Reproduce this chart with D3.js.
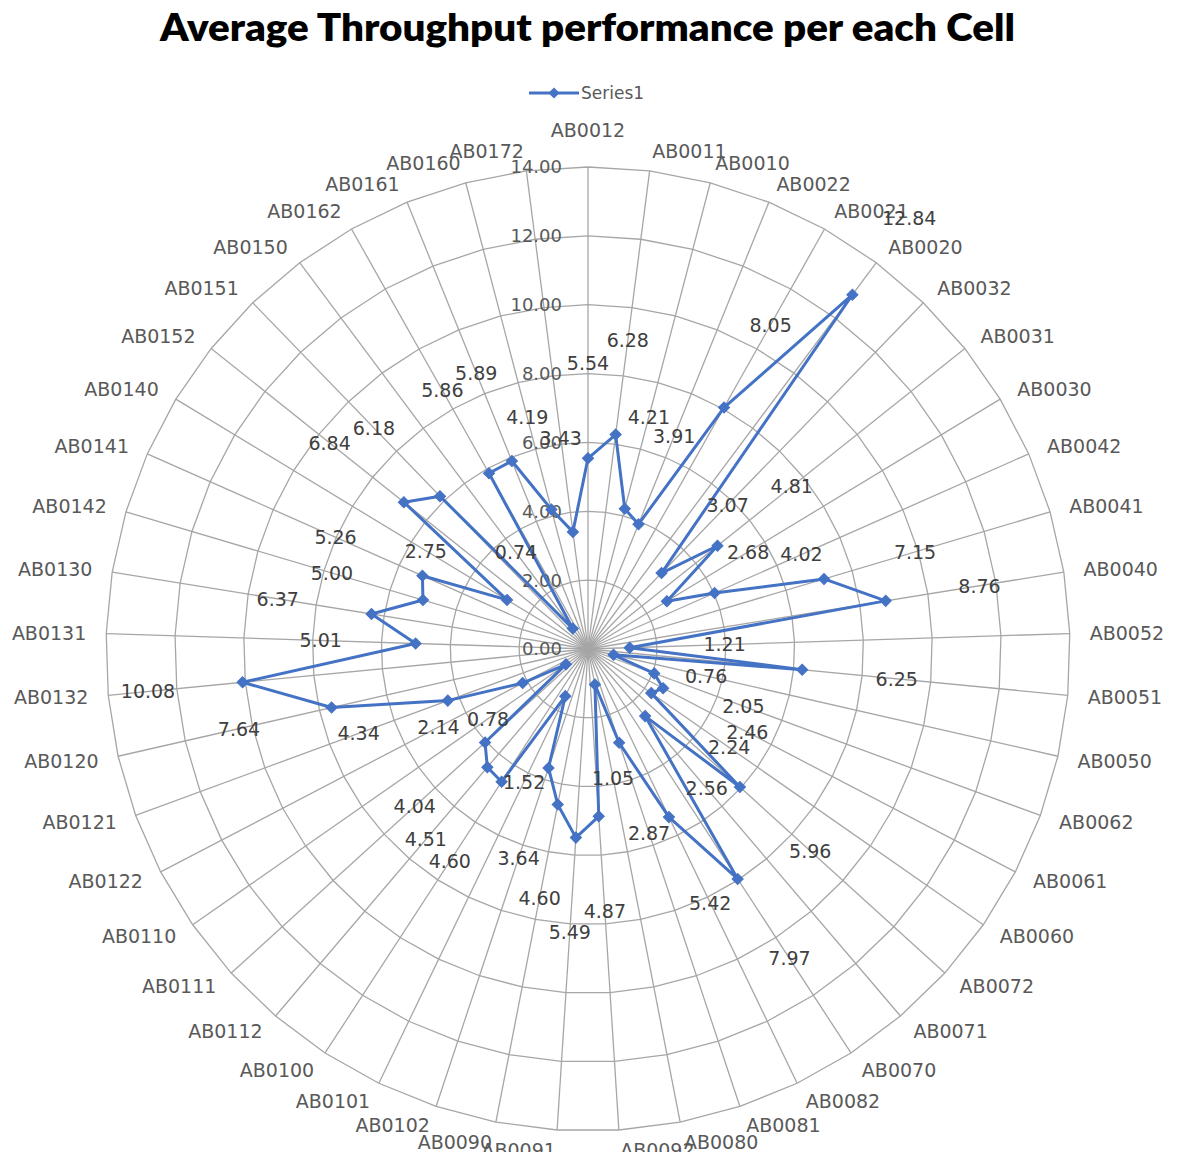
<!DOCTYPE html>
<html>
<head>
<meta charset="utf-8">
<script src="https://cdn.jsdelivr.net/npm/d3@7/dist/d3.min.js"></script>
<style>
  html, body { margin: 0; padding: 0; background: #fff; }
  svg { display: block; }
</style>
</head>
<body>
<svg id="chart" width="1177" height="1152"></svg>
<script>
// Cells, clockwise from the top spoke
const cells = [
  "AB0012", "AB0011", "AB0010", "AB0022", "AB0021", "AB0020", "AB0032", "AB0031",
  "AB0030", "AB0042", "AB0041", "AB0040", "AB0052", "AB0051", "AB0050", "AB0062",
  "AB0061", "AB0060", "AB0072", "AB0071", "AB0070", "AB0082", "AB0081", "AB0080",
  "AB0092", "AB0091", "AB0090", "AB0102", "AB0101", "AB0100", "AB0112", "AB0111",
  "AB0110", "AB0122", "AB0121", "AB0120", "AB0132", "AB0131", "AB0130", "AB0142",
  "AB0141", "AB0140", "AB0152", "AB0151", "AB0150", "AB0162", "AB0161", "AB0160",
  "AB0172"
];

// Average throughput per cell (Series1)
const series1 = [
  5.54, 6.28, 4.21, 3.91, 8.05, 12.84, 3.07, 4.81,
  2.68, 4.02, 7.15, 8.76, 1.21, 6.25, 0.76, 2.05,
  2.46, 2.24, 5.96, 2.56, 7.97, 5.42, 2.87, 1.05,
  4.87, 5.49, 4.60, 3.64, 1.52, 4.60, 4.51, 4.04,
  0.78, 2.14, 4.34, 7.64, 10.08, 5.01, 6.37, 5.00,
  5.26, 2.75, 6.84, 6.18, 0.74, 5.86, 5.89, 4.19,
  3.43
];

// Radial axis ticks
const radialTicks = [0, 2, 4, 6, 8, 10, 12, 14];

const seriesName = "Series1";
const chartTitle = "Average Throughput performance per each Cell";

const svg = d3.select("#chart");
const W = 1177, H = 1152;
const cx = 588, cy = 649, R = 482;
const blue = "#4472C4";
const gridColor = "#a6a6a6";

svg.append("rect").attr("width", W).attr("height", H).attr("fill", "#fff");

const n = cells.length;
const angle = d3.scaleLinear().domain([0, n]).range([0, 2 * Math.PI]);
const r = d3.scaleLinear().domain([0, d3.max(radialTicks)]).range([0, R]);

const g = svg.append("g").attr("transform", `translate(${cx},${cy})`);

// polar -> cartesian (angle measured clockwise from 12 o'clock)
const px = (a, rad) => rad * Math.sin(a);
const py = (a, rad) => -rad * Math.cos(a);

// ring polygons
const ringLine = d3.lineRadial()
  .angle((d, i) => angle(i))
  .radius(d => d)
  .curve(d3.curveLinearClosed);

g.append("g").selectAll("path")
  .data(radialTicks.filter(t => t > 0))
  .join("path")
  .attr("d", t => ringLine(cells.map(() => r(t))))
  .attr("fill", "none")
  .attr("stroke", gridColor)
  .attr("stroke-width", 1.3);

// spokes
g.append("g").selectAll("line")
  .data(cells)
  .join("line")
  .attr("x1", 0).attr("y1", 0)
  .attr("x2", (d, i) => px(angle(i), r(14)))
  .attr("y2", (d, i) => py(angle(i), r(14)))
  .attr("stroke", gridColor)
  .attr("stroke-width", 1.3);

// radial axis tick labels along the top spoke
const fmt = d3.format(".2f");
g.append("g").selectAll("text")
  .data(radialTicks)
  .join("text")
  .attr("x", -26)
  .attr("y", t => -r(t))
  .attr("dy", "0.36em")
  .attr("text-anchor", "end")
  .attr("font-family", "DejaVu Sans")
  .attr("font-size", 18)
  .attr("fill", "#595959")
  .text(t => fmt(t));

// category labels around the outside
g.append("g").selectAll("text")
  .data(cells)
  .join("text")
  .each(function (d, i) {
    const a = angle(i);
    const s = Math.sin(a), c = Math.cos(a);
    const centred = Math.abs(s) < 0.01;
    const rr = R + 20;
    let x = px(a, rr), y = py(a, rr);
    if (centred) y = c > 0 ? -(R + 37) : (R + 37);
    d3.select(this)
      .attr("x", x)
      .attr("y", y)
      .attr("dy", "0.36em")
      .attr("text-anchor", centred ? "middle" : (s > 0 ? "start" : "end"));
  })
  .attr("font-family", "DejaVu Sans")
  .attr("font-size", 19)
  .attr("fill", "#595959")
  .text(d => d);

// series line
const seriesLine = d3.lineRadial()
  .angle((d, i) => angle(i))
  .radius(d => r(d))
  .curve(d3.curveLinearClosed);

g.append("path")
  .datum(series1)
  .attr("d", seriesLine)
  .attr("fill", "none")
  .attr("stroke", blue)
  .attr("stroke-width", 3)
  .attr("stroke-linejoin", "round");

// diamond markers
const diamond = d3.symbol(d3.symbolSquare, 62);
g.append("g").selectAll("path")
  .data(series1)
  .join("path")
  .attr("d", diamond)
  .attr("transform", (d, i) =>
    `translate(${px(angle(i), r(d))},${py(angle(i), r(d))}) rotate(45)`)
  .attr("fill", blue)
  .attr("stroke", blue)
  .attr("stroke-width", 1);

// data labels, pushed outward along each spoke
g.append("g").selectAll("text")
  .data(series1)
  .join("text")
  .attr("x", (d, i) => px(angle(i), r(d) + 95))
  .attr("y", (d, i) => py(angle(i), r(d) + 95))
  .attr("dy", "0.36em")
  .attr("text-anchor", "middle")
  .attr("font-family", "DejaVu Sans")
  .attr("font-size", 19)
  .attr("fill", "#404040")
  .text(d => fmt(d));

// title
svg.append("text")
  .attr("x", 587.5)
  .attr("y", 41)
  .attr("text-anchor", "middle")
  .attr("font-family", "Lato")
  .attr("font-weight", 800)
  .attr("font-size", 38)
  .attr("fill", "#000")
  .attr("textLength", 855)
  .attr("lengthAdjust", "spacingAndGlyphs")
  .text(chartTitle);

// legend
const legend = svg.append("g").attr("transform", "translate(529,93)");
legend.append("line")
  .attr("x1", 0).attr("x2", 50).attr("y1", 0).attr("y2", 0)
  .attr("stroke", blue).attr("stroke-width", 3);
legend.append("path")
  .attr("d", diamond)
  .attr("transform", "translate(25,0) rotate(45)")
  .attr("fill", blue);
legend.append("text")
  .attr("x", 52)
  .attr("y", 0)
  .attr("dy", "0.36em")
  .attr("font-family", "DejaVu Sans")
  .attr("font-size", 17)
  .attr("fill", "#595959")
  .text(seriesName);
</script>
</body>
</html>
